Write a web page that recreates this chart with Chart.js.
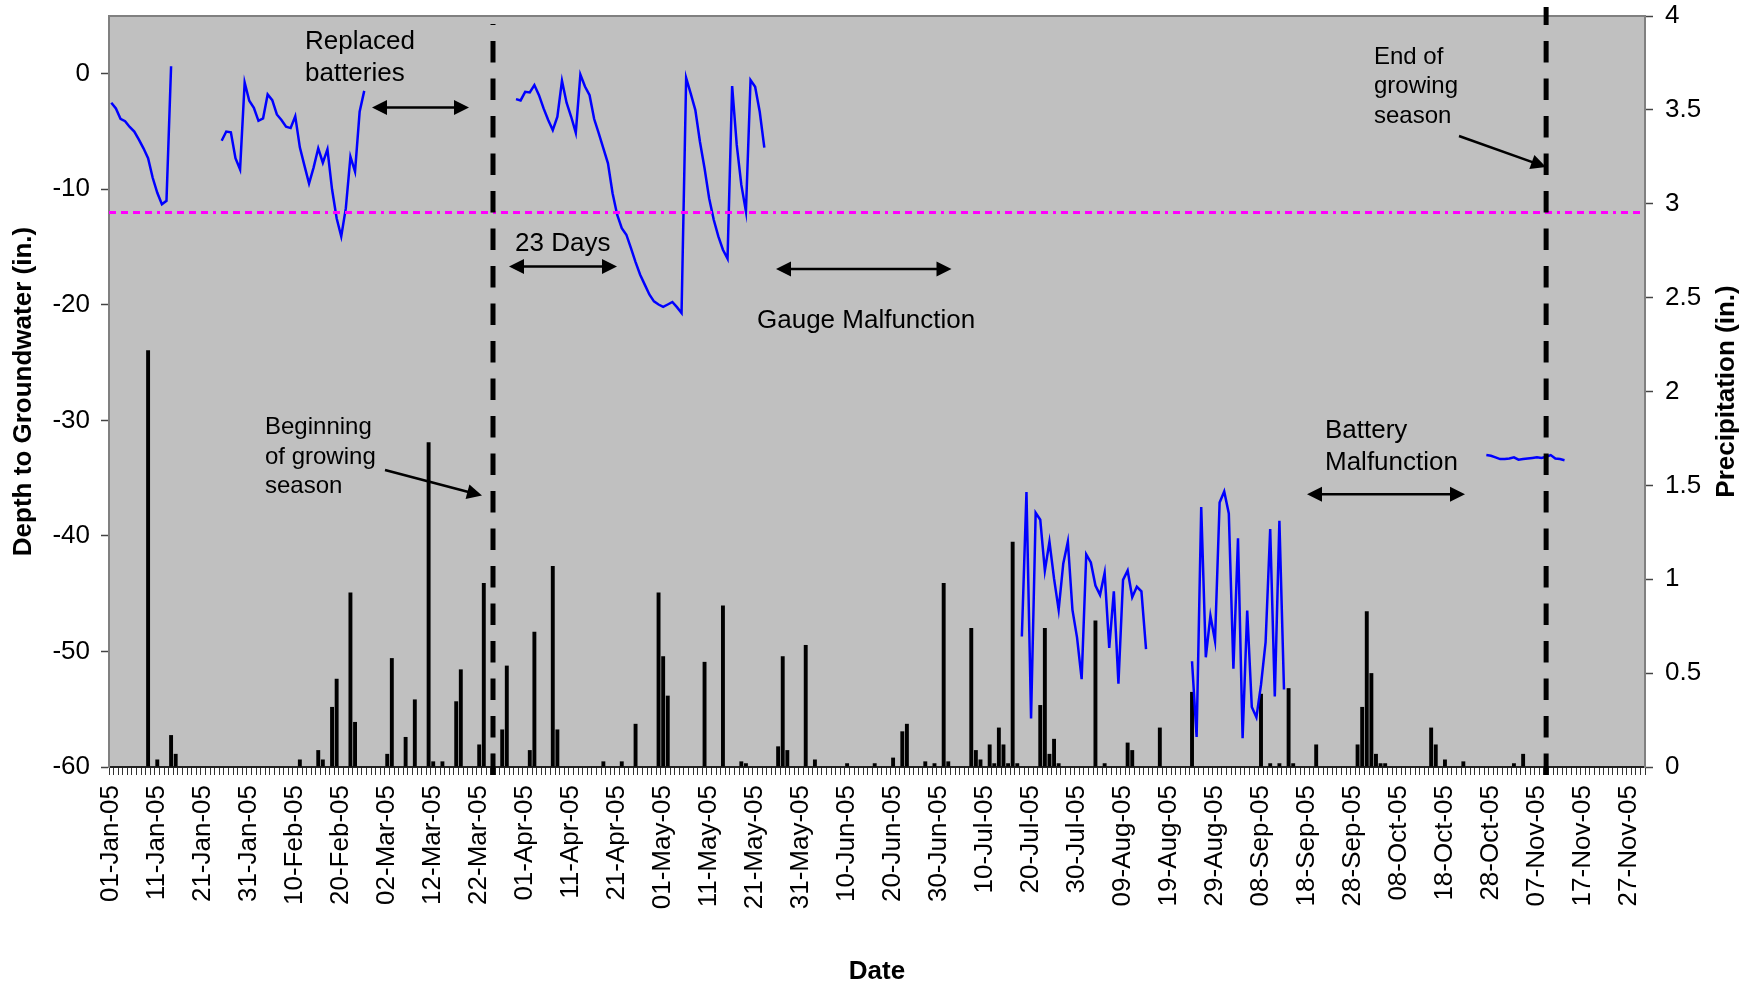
<!DOCTYPE html>
<html>
<head>
<meta charset="utf-8">
<script src="https://cdn.jsdelivr.net/npm/chart.js@4.4.1/dist/chart.umd.min.js"></script>
<style>
html,body{margin:0;padding:0;background:#fff;}
canvas{display:block;}
</style>
</head>
<body>
<canvas id="c" width="1758" height="988"></canvas>
<script>
// ---------------- data ----------------
const firstDay = '01-Jan-05';
const dayCount = 334; // 01-Jan-05 .. 30-Nov-05 (daily categories)

const tickLabels = ['01-Jan-05','11-Jan-05','21-Jan-05','31-Jan-05','10-Feb-05','20-Feb-05',
  '02-Mar-05','12-Mar-05','22-Mar-05','01-Apr-05','11-Apr-05','21-Apr-05','01-May-05',
  '11-May-05','21-May-05','31-May-05','10-Jun-05','20-Jun-05','30-Jun-05','10-Jul-05',
  '20-Jul-05','30-Jul-05','09-Aug-05','19-Aug-05','29-Aug-05','08-Sep-05','18-Sep-05',
  '28-Sep-05','08-Oct-05','18-Oct-05','28-Oct-05','07-Nov-05','17-Nov-05','27-Nov-05'];

// Daily precipitation (in.) on days with rain
const rainDates = [
  '09-Jan-05','11-Jan-05','14-Jan-05','15-Jan-05',
  '11-Feb-05','15-Feb-05','16-Feb-05','18-Feb-05','19-Feb-05','22-Feb-05','23-Feb-05',
  '02-Mar-05','03-Mar-05','06-Mar-05','08-Mar-05','11-Mar-05','12-Mar-05','14-Mar-05','17-Mar-05','18-Mar-05','22-Mar-05','23-Mar-05','25-Mar-05','27-Mar-05','28-Mar-05',
  '02-Apr-05','03-Apr-05','07-Apr-05','08-Apr-05','18-Apr-05','22-Apr-05','25-Apr-05','30-Apr-05',
  '01-May-05','02-May-05','10-May-05','14-May-05','18-May-05','19-May-05','26-May-05','27-May-05','28-May-05',
  '01-Jun-05','03-Jun-05','10-Jun-05','16-Jun-05','20-Jun-05','22-Jun-05','23-Jun-05','27-Jun-05','29-Jun-05',
  '01-Jul-05','02-Jul-05','07-Jul-05','08-Jul-05','09-Jul-05','11-Jul-05','12-Jul-05','13-Jul-05','14-Jul-05','15-Jul-05','16-Jul-05','17-Jul-05','22-Jul-05','23-Jul-05','24-Jul-05','25-Jul-05','26-Jul-05',
  '03-Aug-05','05-Aug-05','10-Aug-05','11-Aug-05','17-Aug-05','24-Aug-05',
  '08-Sep-05','10-Sep-05','12-Sep-05','14-Sep-05','15-Sep-05','20-Sep-05','29-Sep-05','30-Sep-05',
  '01-Oct-05','02-Oct-05','03-Oct-05','04-Oct-05','05-Oct-05','15-Oct-05','16-Oct-05','18-Oct-05','22-Oct-05',
  '02-Nov-05','04-Nov-05'];
const rainInches = [
  2.22,0.04,0.17,0.07,
  0.04,0.09,0.04,0.32,0.47,0.93,0.24,
  0.07,0.58,0.16,0.36,1.73,0.03,0.03,0.35,0.52,0.12,0.98,0.07,0.20,0.54,
  0.09,0.72,1.07,0.20,0.03,0.03,0.23,0.93,
  0.59,0.38,0.56,0.86,0.03,0.02,0.11,0.59,0.09,
  0.65,0.04,0.02,0.02,0.05,0.19,0.23,0.03,0.02,
  0.98,0.03,0.74,0.09,0.04,0.12,0.02,0.21,0.12,0.02,1.20,0.02,0.33,0.74,0.07,0.15,0.02,
  0.78,0.02,0.13,0.09,0.21,0.40,
  0.39,0.02,0.02,0.42,0.02,0.12,0.12,0.32,
  0.83,0.50,0.07,0.02,0.02,0.21,0.12,0.04,0.03,
  0.02,0.07];

// Depth to groundwater (in.), daily readings in separate recorded runs
const gwRunStarts = ['01-Jan-05','25-Jan-05','30-Mar-05','18-Jul-05','12-Aug-05','24-Aug-05','27-Oct-05'];
const gwRun1 = [-2.5,-3.0,-3.9,-4.1,-4.6,-5.0,-5.7,-6.45,-7.3,-9.0,-10.3,-11.3,-11.0,0.65];
const gwRun2 = [-5.8,-5.0,-5.07,-7.3,-8.27,-0.76,-2.34,-2.94,-4.07,-3.87,-1.79,-2.28,-3.52,-4.0,-4.58,-4.7,
  -3.69,-6.37,-7.95,-9.5,-8.1,-6.45,-7.7,-6.54,-10.0,-12.5,-14.08,-11.63,-7.17,-8.47,-3.29,-1.48];
const gwRun3 = [-2.19,-2.31,-1.56,-1.62,-0.98,-1.85,-3.0,-4.0,-4.87,-3.72,-0.61,-2.5,-3.72,-5.1,-0.07,-1.1,
  -1.85,-3.92,-5.16,-6.45,-7.75,-10.34,-12.2,-13.36,-13.93,-15.09,-16.3,-17.39,-18.25,-19.1,-19.7,-19.97,
  -20.18,-19.97,-19.75,-20.2,-20.7,-0.35,-1.71,-3.14,-5.88,-8.18,-10.77,-12.64,-14.08,-15.23,-16.0,-1.07,
  -6.16,-9.62,-11.92,-0.55,-1.13,-3.29,-6.4];
const gwRun4 = [-48.7,-36.2,-55.8,-38.0,-38.6,-43.0,-40.5,-43.7,-46.4,-42.4,-40.5,-46.4,-48.8,-52.4,-41.6,
  -42.3,-44.3,-45.1,-43.2,-49.7,-44.8,-52.8,-43.8,-43.0,-45.3];
const gwRun5 = [-44.4,-44.8,-49.8];
const gwRun6 = [-50.85,-57.4,-37.5,-50.5,-46.9,-49.1,-37.1,-36.15,-38.05,-51.5,-40.2,-57.5,-46.45,-54.8,
  -55.7,-52.9,-49.2,-39.4,-53.9,-38.7,-53.3];
const gwRun7 = [-33.0,-33.06,-33.2,-33.35,-33.35,-33.3,-33.2,-33.4,-33.35,-33.3,-33.25,-33.2,-33.25,-33.15,
  -33.0,-33.3,-33.35,-33.45];
const gwRuns = [gwRun1,gwRun2,gwRun3,gwRun4,gwRun5,gwRun6,gwRun7];

const thresholdDepth = -12;                       // in.
const growingSeasonDates = ['25-Mar-05','09-Nov-05'];

// ---------------- build library tables ----------------
const MONTHS = ['Jan','Feb','Mar','Apr','May','Jun','Jul','Aug','Sep','Oct','Nov','Dec'];
function fmtDate(d){
  return String(d.getUTCDate()).padStart(2,'0') + '-' + MONTHS[d.getUTCMonth()] + '-' + String(d.getUTCFullYear()).slice(2);
}
const categories = [];
for (let i = 0; i < dayCount; i++) categories.push(fmtDate(new Date(Date.UTC(2005, 0, 1 + i))));
const dayIndex = lab => categories.indexOf(lab);

const precipSeries = categories.map(() => null);
rainDates.forEach((d, k) => { precipSeries[dayIndex(d)] = rainInches[k]; });

const depthSeries = categories.map(() => null);
gwRuns.forEach((run, r) => {
  const s = dayIndex(gwRunStarts[r]);
  run.forEach((v, k) => { depthSeries[s + k] = v; });
});

// ---------------- drawing helpers ----------------
const FONT = "'Liberation Sans', Arial, Helvetica, sans-serif";
Chart.defaults.font.family = FONT;
Chart.defaults.color = '#000';

function arrowHead(ctx, x1, y1, x2, y2, len, half){
  const a = Math.atan2(y2 - y1, x2 - x1);
  const c = Math.cos(a), s = Math.sin(a);
  ctx.beginPath();
  ctx.moveTo(x2, y2);
  ctx.lineTo(x2 - len*c + half*s, y2 - len*s - half*c);
  ctx.lineTo(x2 - len*c - half*s, y2 - len*s + half*c);
  ctx.closePath();
  ctx.fill();
}
function arrow(ctx, x1, y1, x2, y2, both){
  const len = 15, half = 7.5;
  const a = Math.atan2(y2 - y1, x2 - x1);
  const c = Math.cos(a), s = Math.sin(a);
  ctx.beginPath();
  ctx.moveTo(both ? x1 + (len-2)*c : x1, both ? y1 + (len-2)*s : y1);
  ctx.lineTo(x2 - (len-2)*c, y2 - (len-2)*s);
  ctx.stroke();
  arrowHead(ctx, x1, y1, x2, y2, len, half);
  if (both) arrowHead(ctx, x2, y2, x1, y1, len, half);
}

const notes = [
  {lines:['Replaced','batteries'], x:305, y:49, lh:32, size:26},
  {lines:['23 Days'], x:515, y:251, lh:32, size:26},
  {lines:['Gauge Malfunction'], x:757, y:328, lh:32, size:26},
  {lines:['Beginning','of growing','season'], x:265, y:434, lh:29.7, size:24},
  {lines:['End of','growing','season'], x:1374, y:63.5, lh:29.5, size:24},
  {lines:['Battery','Malfunction'], x:1325, y:437.5, lh:32.5, size:26}
];
const arrows = [
  {x1:372, y1:107.6, x2:469, y2:107.6, both:true},
  {x1:509, y1:266.5, x2:617, y2:266.5, both:true},
  {x1:776, y1:269, x2:951.5, y2:269, both:true},
  {x1:1307, y1:494.3, x2:1465, y2:494.3, both:true},
  {x1:385, y1:470, x2:482, y2:495.5, both:false},
  {x1:1459, y1:136, x2:1546, y2:167, both:false}
];
const seasonLineTops = [24, 7];

const bgPlugin = {
  id: 'plotBg',
  beforeDraw(chart){
    const {ctx, chartArea: a} = chart;
    ctx.save();
    ctx.fillStyle = '#ffffff';
    ctx.fillRect(0, 0, chart.width, chart.height);
    ctx.fillStyle = '#C0C0C0';
    ctx.fillRect(a.left, a.top, a.right - a.left, a.bottom - a.top);
    ctx.strokeStyle = '#808080';
    ctx.lineWidth = 2;
    ctx.beginPath();
    ctx.moveTo(a.left, a.top); ctx.lineTo(a.right, a.top);
    ctx.stroke();
    ctx.restore();
  }
};

const overlayPlugin = {
  id: 'overlay',
  afterDraw(chart){
    const {ctx, chartArea: a, scales} = chart;
    ctx.save();
    // threshold line
    const yT = scales.y.getPixelForValue(thresholdDepth);
    ctx.strokeStyle = '#FF00FF';
    ctx.lineWidth = 3;
    ctx.setLineDash([7,5,7,5,7,5,7,5,3,5]);
    ctx.beginPath(); ctx.moveTo(a.left, yT); ctx.lineTo(a.right, yT); ctx.stroke();
    // growing season lines
    ctx.strokeStyle = '#000';
    ctx.lineWidth = 5;
    ctx.setLineDash([21.5, 16]);
    growingSeasonDates.forEach((d, k) => {
      const x = scales.x.getPixelForValue(dayIndex(d));
      ctx.beginPath(); ctx.moveTo(x, a.bottom + 8); ctx.lineTo(x, seasonLineTops[k]); ctx.stroke();
    });
    ctx.setLineDash([]);
    // arrows
    ctx.strokeStyle = '#000'; ctx.fillStyle = '#000'; ctx.lineWidth = 2.5;
    arrows.forEach(r => arrow(ctx, r.x1, r.y1, r.x2, r.y2, r.both));
    // notes
    ctx.textAlign = 'left'; ctx.textBaseline = 'alphabetic';
    notes.forEach(n => {
      ctx.font = n.size + 'px ' + FONT;
      n.lines.forEach((t, i) => ctx.fillText(t, n.x, n.y + i*n.lh));
    });
    // right axis title (reads bottom to top)
    ctx.font = 'bold 26px ' + FONT;
    ctx.textAlign = 'center'; ctx.textBaseline = 'middle';
    ctx.translate(1727, (a.top + a.bottom)/2);
    ctx.rotate(-Math.PI/2);
    ctx.fillText('Precipitation (in.)', 0, 0);
    ctx.restore();
  }
};

new Chart(document.getElementById('c').getContext('2d'), {
  data: {
    labels: categories,
    datasets: [
      {type:'line', label:'Depth to Groundwater', data: depthSeries, yAxisID:'y',
       borderColor:'#0000FF', borderWidth:2.5, pointRadius:0, tension:0, spanGaps:false, order:0},
      {type:'bar', label:'Precipitation', data: precipSeries, yAxisID:'y1',
       backgroundColor:'#000000', borderWidth:0, barPercentage:0.85, categoryPercentage:1.0, order:1}
    ]
  },
  options: {
    responsive:false, animation:false, devicePixelRatio:1,
    layout:{padding:{top:16, left:0, right:0, bottom:0}},
    plugins:{legend:{display:false}, tooltip:{enabled:false}, title:{display:false}},
    scales:{
      x:{
        type:'category', offset:true,
        grid:{offset:true, drawOnChartArea:false, drawTicks:true, tickLength:8, tickColor:'#333', tickWidth:1},
        border:{display:true, color:'#222', width:2},
        ticks:{autoSkip:false, minRotation:90, maxRotation:90, padding:10, color:'#000',
          font:{size:26, family:FONT},
          callback:function(v){ const l = this.getLabelForValue(v); return tickLabels.includes(l) ? l : ''; }},
        title:{display:true, text:'Date', color:'#000', font:{size:26, weight:'bold', family:FONT}, padding:{top:0, bottom:1}},
        afterFit:s => { s.height = 221; s.paddingLeft = 0; s.paddingRight = 0; }
      },
      y:{
        position:'left', min:-60, max:5,
        ticks:{stepSize:10, padding:11, color:'#000', font:{size:26, family:FONT}, callback:v => String(v)},
        afterBuildTicks:s => { s.ticks = s.ticks.filter(t => t.value <= 0); },
        grid:{drawOnChartArea:false, drawTicks:true, tickLength:8, tickColor:'#444', tickWidth:1.5},
        border:{display:true, color:'#808080', width:2},
        title:{display:true, text:'Depth to Groundwater (in.)', color:'#000', font:{size:26, weight:'bold', family:FONT}, padding:{top:8, bottom:0}},
        afterFit:s => { s.width = 109; s.paddingTop = 0; s.paddingBottom = 0; }
      },
      y1:{
        position:'right', min:0, max:4,
        ticks:{stepSize:0.5, padding:12, color:'#000', font:{size:26, family:FONT}, callback:v => String(v)},
        grid:{drawOnChartArea:false, drawTicks:true, tickLength:8, tickColor:'#444', tickWidth:1.5},
        border:{display:true, color:'#808080', width:2},
        title:{display:false},
        afterFit:s => { s.width = 113; s.paddingTop = 0; s.paddingBottom = 0; }
      }
    }
  },
  plugins:[bgPlugin, overlayPlugin]
});
</script>
</body>
</html>
